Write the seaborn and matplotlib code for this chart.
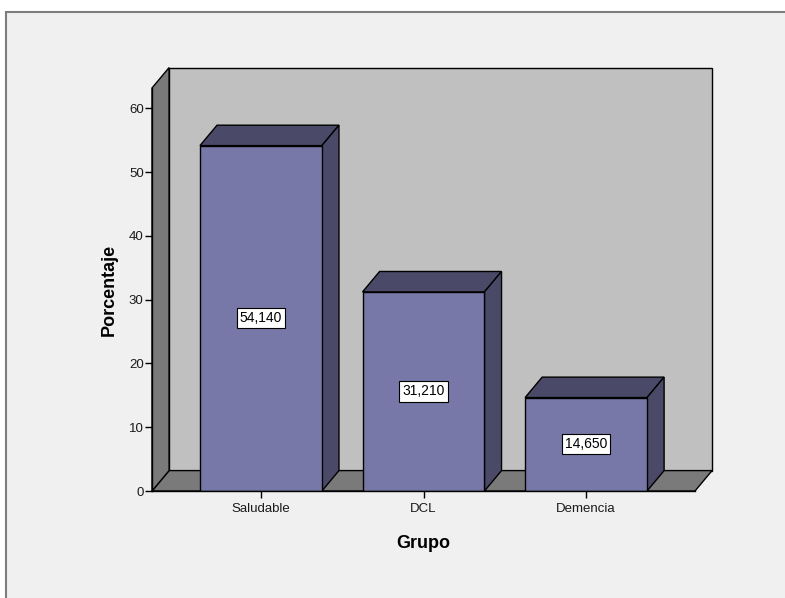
import matplotlib
matplotlib.use("Agg")
import matplotlib.pyplot as plt
from matplotlib.patches import Polygon, Rectangle
import seaborn as sns
import pandas as pd

grupos = ["Saludable", "DCL", "Demencia"]
porcentajes = [54.14, 31.21, 14.65]
etiquetas = ["54,140", "31,210", "14,650"]
yticks = [0, 10, 20, 30, 40, 50, 60]

sns.set_style("white")
plt.rcParams["font.family"] = ["Liberation Sans", "DejaVu Sans"]

FRONT = "#7878a8"
DARK = "#4a4a68"
WALL = "#c0c0c0"
FLOOR = "#7a7a7a"
BG = "#f0f0f0"

fig = plt.figure(figsize=(7.85, 5.98), dpi=100, facecolor="white")
# chart panel
fig.add_artist(Rectangle((6 / 785, -0.05), 1.0, (598 - 12) / 598 + 0.05,
                         transform=fig.transFigure, facecolor=BG,
                         edgecolor="#7d7d7d", linewidth=1.5, zorder=0))

ax = fig.add_axes([152 / 785, 107 / 598, (695 - 152) / 785, (491 - 88) / 598])
ax.set_facecolor("none")

df = pd.DataFrame({"Grupo": grupos, "Porcentaje": porcentajes})
width = 0.75
sns.barplot(data=df, x="Grupo", y="Porcentaje", color=FRONT, saturation=1,
            width=width, edgecolor="black", linewidth=1, ax=ax, zorder=5)

x0, x1 = -0.67, 2.67
ytop = 63.17
dx, dy = 0.105, 3.2
ax.set_xlim(x0, x1)
ax.set_ylim(0, ytop)

kw = dict(edgecolor="black", linewidth=1, clip_on=False, joinstyle="miter")
# back wall, floor, left wall
ax.add_patch(Polygon([(x0 + dx, dy), (x1 + dx, dy), (x1 + dx, ytop + dy),
                      (x0 + dx, ytop + dy)], facecolor=WALL, zorder=1, **kw))
ax.add_patch(Polygon([(x0, 0), (x1, 0), (x1 + dx, dy), (x0 + dx, dy)],
                     facecolor=FLOOR, zorder=2, **kw))
ax.add_patch(Polygon([(x0, 0), (x0 + dx, dy), (x0 + dx, ytop + dy), (x0, ytop)],
                     facecolor=FLOOR, zorder=2, **kw))

# top and side faces of each bar, plus value labels
for i, (v, lab) in enumerate(zip(porcentajes, etiquetas)):
    l, r = i - width / 2, i + width / 2
    ax.add_patch(Polygon([(l, v), (r, v), (r + dx, v + dy), (l + dx, v + dy)],
                         facecolor=DARK, zorder=4, **kw))
    ax.add_patch(Polygon([(r, 0), (r + dx, dy), (r + dx, v + dy), (r, v)],
                         facecolor=DARK, zorder=4, **kw))
    ax.text(i, v / 2, lab, ha="center", va="center", fontsize=10, zorder=7,
            color="black",
            bbox=dict(boxstyle="square,pad=0.22", facecolor="white",
                      edgecolor="black", linewidth=0.8))

for s in ["top", "right"]:
    ax.spines[s].set_visible(False)
for s in ["left", "bottom"]:
    ax.spines[s].set_color("black")
    ax.spines[s].set_linewidth(1)
    ax.spines[s].set_zorder(6)

ax.set_yticks(yticks)
ax.tick_params(axis="both", left=True, bottom=True, direction="out", length=5,
               width=1, color="black", labelsize=9.5, labelcolor="#1a1a1a", pad=1)
ax.tick_params(axis="x", pad=4)
ax.set_ylabel("Porcentaje", fontsize=13, fontweight="bold", labelpad=8,
              color="black")
ax.set_xlabel("Grupo", fontsize=13, fontweight="bold", labelpad=14,
              color="black")

fig.savefig("out.png", dpi=100, facecolor="white")
